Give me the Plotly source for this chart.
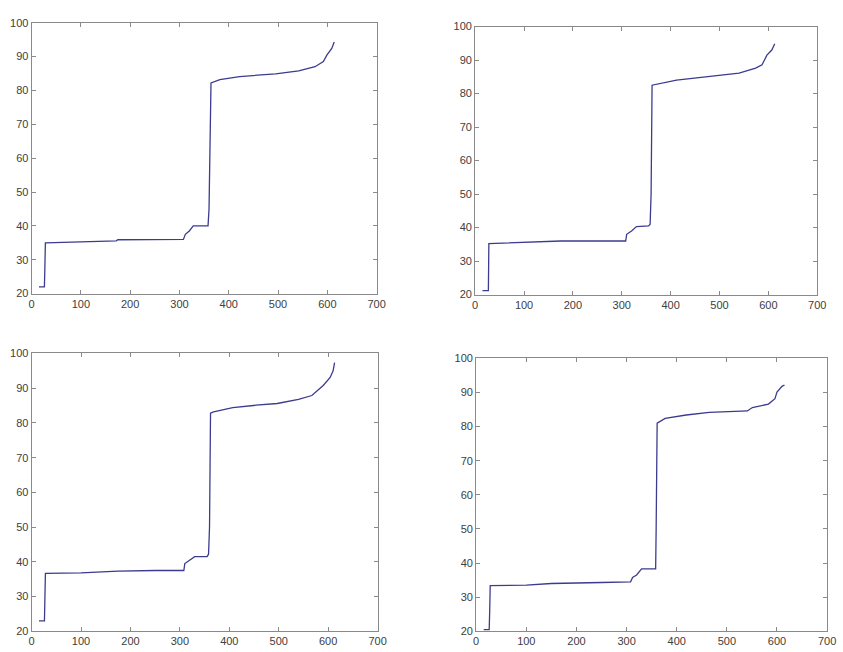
import plotly.graph_objects as go

# Panel data (x index, value)
tl_x = [15, 26, 27, 28, 100, 172, 175, 308, 312, 320, 328, 358, 360, 362, 363, 364, 382, 422, 495, 542, 575, 592, 599, 609, 614]
tl_y = [22, 22, 28, 35, 35.3, 35.6, 35.9, 36, 37.5, 38.5, 40, 40, 45, 60, 70, 82.2, 83.2, 84.1, 84.9, 85.8, 87.0, 88.5, 90.4, 92.4, 94.3]

tr_x = [15, 27, 28, 100, 175, 308, 310, 320, 330, 355, 358, 360, 361, 362, 412, 480, 540, 574, 587, 597, 607, 613]
tr_y = [21.2, 21.2, 35.2, 35.5, 36, 36, 38, 39, 40.3, 40.5, 41, 50, 70, 82.5, 84.0, 85.1, 86.1, 87.6, 88.6, 91.5, 93, 94.9]

bl_x = [15, 26, 27, 28, 100, 175, 250, 308, 310, 320, 330, 355, 358, 360, 361, 362, 368, 407, 454, 497, 540, 567, 590, 604, 610, 613]
bl_y = [23, 23, 30, 36.7, 36.8, 37.3, 37.5, 37.5, 39.5, 40.5, 41.5, 41.5, 42.2, 50, 70, 82.8, 83.2, 84.4, 85.1, 85.6, 86.8, 87.9, 90.8, 93.1, 95, 97.4]

br_x = [15, 26, 27, 28, 100, 150, 250, 308, 312, 320, 330, 358, 359, 360, 361, 377, 419, 465, 541, 551, 583, 596, 600, 610, 615]
br_y = [20.5, 20.5, 26, 33.4, 33.5, 34, 34.3, 34.5, 35.8, 36.5, 38.3, 38.3, 50, 70, 81.0, 82.4, 83.4, 84.2, 84.6, 85.6, 86.6, 88.2, 90.1, 91.8, 92.2]

x_ticks = [0, 100, 200, 300, 400, 500, 600, 700]
y_ticks = [20, 30, 40, 50, 60, 70, 80, 90, 100]

W, H = 843, 652
# pixel boxes: (left, right, top, bottom)
boxes = [(29, 379, 17, 293), (479, 826, 21, 294), (29, 380, 354, 637), (480, 836, 359, 637)]
series = [(tl_x, tl_y), (tr_x, tr_y), (bl_x, bl_y), (br_x, br_y)]

fig = go.Figure()
line_col = "#3b3b8f"
axis_col = "#8a8a8a"
font = dict(family="Liberation Sans, Arial, sans-serif", size=11, color="#404040")

for i, ((xs, ys), (l, r, t, b)) in enumerate(zip(series, boxes), start=1):
    xa = "x" if i == 1 else f"x{i}"
    ya = "y" if i == 1 else f"y{i}"
    fig.add_trace(go.Scatter(x=xs, y=ys, mode="lines", xaxis=xa, yaxis=ya,
                             line=dict(color=line_col, width=1.3), showlegend=False))
    xkey = "xaxis" if i == 1 else f"xaxis{i}"
    ykey = "yaxis" if i == 1 else f"yaxis{i}"
    fig.layout[xkey] = dict(domain=[l / W, r / W], range=[0, 700], tickvals=x_ticks,
                            ticks="inside", ticklen=4, tickcolor=axis_col, showline=True,
                            linecolor=axis_col, linewidth=1, mirror="ticks", showgrid=False,
                            zeroline=False, anchor=ya, tickfont=font)
    fig.layout[ykey] = dict(domain=[1 - b / H, 1 - t / H], range=[20, 100], tickvals=y_ticks,
                            ticks="inside", ticklen=4, tickcolor=axis_col, showline=True,
                            linecolor=axis_col, linewidth=1, mirror="ticks", showgrid=False,
                            zeroline=False, anchor=xa, tickfont=font)

fig.update_layout(width=W, height=H, margin=dict(l=0, r=0, t=0, b=0),
                  paper_bgcolor="white", plot_bgcolor="white")
fig.write_html("out.html")
